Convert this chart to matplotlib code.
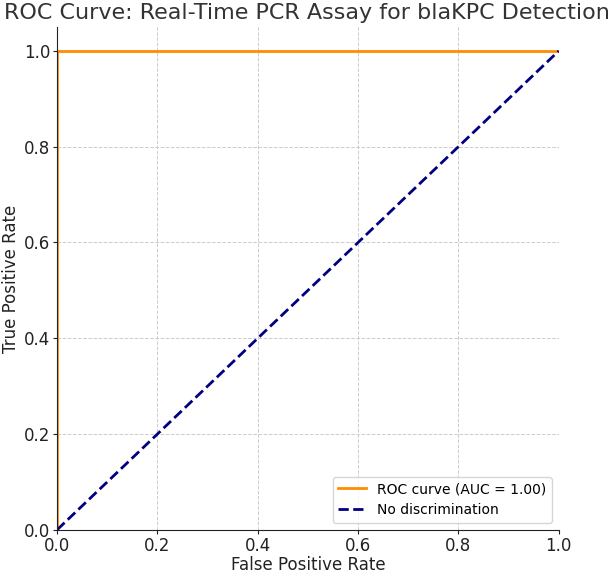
import matplotlib
matplotlib.use("Agg")
import matplotlib.pyplot as plt

# ROC data
fpr = [0.0, 0.0, 1.0]
tpr = [0.0, 1.0, 1.0]
auc_val = 1.00
diag = [0.0, 1.0]

fig = plt.figure(figsize=(6.14, 5.74), dpi=100)
ax = fig.add_axes([0.093, 0.077, 0.817, 0.876])
ax.plot(fpr, tpr, color="darkorange", lw=2, label=f"ROC curve (AUC = {auc_val:.2f})")
ax.plot(diag, diag, color="navy", lw=2, ls="--", label="No discrimination")
ax.set_xlim(0.0, 1.0)
ax.set_ylim(0.0, 1.05)
ax.set_yticks([0.0, 0.2, 0.4, 0.6, 0.8, 1.0])
ax.grid(True, ls="--", color="#cccccc", lw=0.7)
for s in ("top", "right"):
    ax.spines[s].set_visible(False)
for s in ("left", "bottom"):
    ax.spines[s].set_zorder(3)
    ax.spines[s].set_color("#222222")
ax.tick_params(labelsize=12, colors="#222222", length=3, pad=2)
ax.set_xlabel("False Positive Rate", fontsize=12, color="#222222", labelpad=1)
ax.set_ylabel("True Positive Rate", fontsize=12, color="#222222", labelpad=3)
fig.suptitle("ROC Curve: Real-Time PCR Assay for blaKPC Detection", fontsize=16,
             color="#333333", x=0.5, y=0.995, va="top")
ax.legend(loc="lower right", fontsize=10)
fig.savefig("out.png", dpi=100)
